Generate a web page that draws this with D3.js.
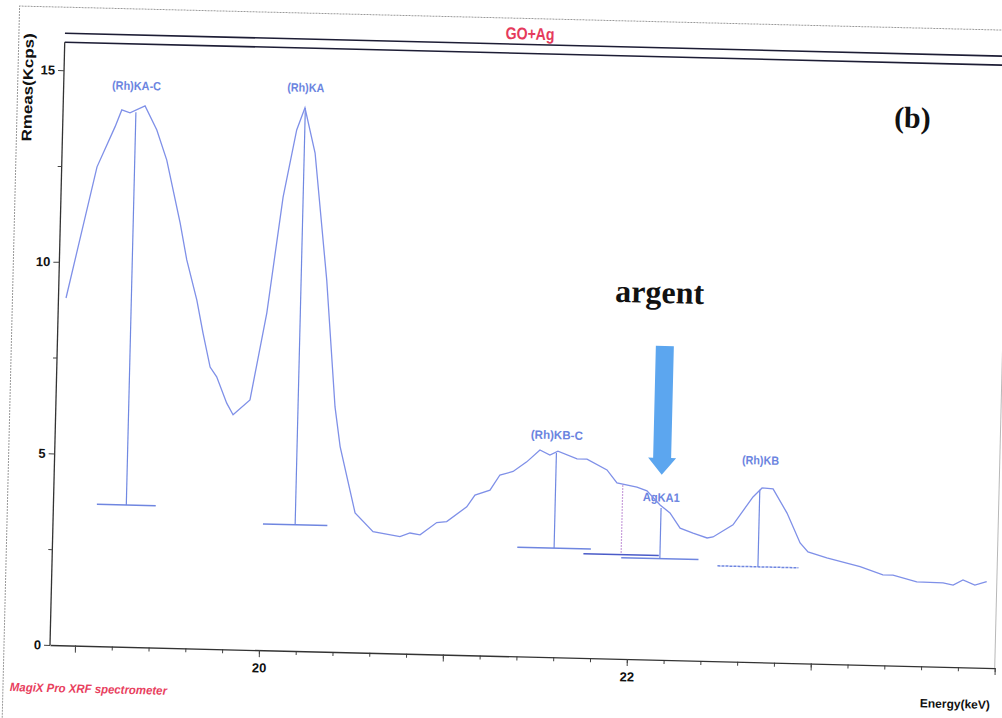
<!DOCTYPE html>
<html>
<head>
<meta charset="utf-8">
<script src="https://cdn.jsdelivr.net/npm/d3@7"></script>
<style>
  body { margin: 0; background: #fff; }
  text { font-family: "Liberation Sans Narrow", "Arial Narrow", "Liberation Sans", sans-serif; }
</style>
</head>
<body>
<div id="chart-container"></div>
<script>
// Spectrum (energy in keV, Rmeas in kcps)
const energy = [18.905, 19.056, 19.149, 19.183, 19.228, 19.309, 19.376, 19.434, 19.515, 19.556,
  19.616, 19.654, 19.697, 19.734, 19.792, 19.828, 19.918, 19.998, 20.071, 20.136,
  20.178, 20.239, 20.319, 20.381, 20.414, 20.504, 20.604, 20.751, 20.805, 20.860,
  20.949, 21.003, 21.110, 21.153, 21.234, 21.286, 21.357, 21.430, 21.500, 21.555,
  21.598, 21.703, 21.757, 21.867, 21.923, 22.032, 22.087, 22.160, 22.215, 22.272,
  22.343, 22.420, 22.452, 22.559, 22.664, 22.712, 22.772, 22.851, 22.926, 22.970,
  23.073, 23.255, 23.380, 23.435, 23.565, 23.708, 23.763, 23.816, 23.881, 23.945];
const rmeas = [9.06, 12.50, 13.56, 14.00, 13.93, 14.12, 13.50, 12.72, 11.09, 10.13,
  9.09, 8.23, 7.35, 7.10, 6.42, 6.12, 6.52, 8.80, 11.83, 13.59,
  14.17, 13.00, 9.70, 6.39, 5.36, 3.64, 3.16, 3.05, 3.15, 3.11,
  3.44, 3.47, 3.87, 4.18, 4.32, 4.72, 4.82, 5.08, 5.40, 5.27,
  5.38, 5.19, 5.19, 4.92, 4.59, 4.49, 4.40, 4.04, 3.84, 3.45,
  3.33, 3.21, 3.24, 3.57, 4.31, 4.55, 4.53, 3.91, 3.14, 2.91,
  2.77, 2.56, 2.36, 2.36, 2.20, 2.19, 2.14, 2.28, 2.15, 2.25];

// Peak markers
const peakNames = ["(Rh)KA-C", "(Rh)KA", "(Rh)KB-C", "", "AgKA1", "(Rh)KB"];
const peakEnergy = [19.26, 20.18, 21.59, 21.955, 22.166, 22.70];
const peakTop = [13.95, 14.17, 5.33, 4.54, 3.96, 4.50];
const peakBase = [3.70, 3.29, 2.85, 2.72, 2.64, 2.49];
const peakHalfWidth = [0.16, 0.175, 0.2, 0.205, 0.21, 0.22];
const peakLabelValue = [14.64, 14.70, 5.80, 4.24, 4.24, 5.27];

const yTicks = [0, 5, 10, 15];
const yMinorTicks = [2.5, 7.5, 12.5];
const xTicks = [20, 22];

const width = 945;
const plotH = 603;

const x = d3.scaleLinear().domain([18.864, 24.0]).range([0, width]);
const y = d3.scaleLinear().domain([0, 15]).range([0, -575]);

const svg = d3.select("#chart-container")
  .append("svg")
  .attr("width", 1002)
  .attr("height", 718);

// the scan is slightly tilted, so the whole sheet is rotated a bit
const g = svg.append("g")
  .attr("transform", "translate(50,645) rotate(1.4)");

// squeeze text to the narrow font of the original
function narrow(sel, len) {
  return sel.attr("textLength", len).attr("lengthAdjust", "spacingAndGlyphs");
}

// outer frame
g.append("path")
  .attr("d", `M-46,80 V-638 H1010`)
  .attr("fill", "none")
  .attr("stroke", "#9a9a9a")
  .attr("stroke-width", 1)
  .attr("stroke-dasharray", "2,1");

// right border
g.append("line")
  .attr("x1", width).attr("x2", width)
  .attr("y1", 0).attr("y2", -plotH)
  .attr("stroke", "#b8b8b8")
  .attr("stroke-width", 1);

// double line on top
[-plotH, -612].forEach(v => {
  g.append("line")
    .attr("x1", 0).attr("x2", 1010)
    .attr("y1", v).attr("y2", v)
    .attr("stroke", "#1d1d35")
    .attr("stroke-width", 1.6);
});

// title
g.append("text")
  .attr("x", 465)
  .attr("y", -617)
  .attr("text-anchor", "middle")
  .attr("fill", "#e53a5c")
  .attr("font-size", 17)
  .attr("font-weight", "bold")
  .text("GO+Ag")
  .call(narrow, 49);

// x axis
const xMinor = d3.range(19, 24.01, 0.2).map(d => +d.toFixed(1));
g.append("g")
  .call(d3.axisBottom(x).tickValues(xMinor).tickSize(4).tickFormat("").tickSizeOuter(0))
  .call(a => a.select(".domain").remove())
  .selectAll("line").attr("stroke", "#444");
g.append("g")
  .call(d3.axisBottom(x).tickValues([19, 20, 21, 22, 23, 24]).tickSize(7).tickFormat(d => xTicks.includes(d) ? d : "").tickSizeOuter(0))
  .call(a => a.select(".domain").attr("stroke", "#333").attr("stroke-width", 1.3))
  .call(a => a.selectAll("line").attr("stroke", "#444"))
  .call(a => a.selectAll("text")
    .attr("y", 13)
    .attr("fill", "#111")
    .attr("font-size", 13)
    .attr("font-weight", "bold")
    .style("font-family", "'Liberation Sans Narrow', 'Liberation Sans', sans-serif"));

// y axis
g.append("line")
  .attr("x1", 0).attr("x2", 0)
  .attr("y1", 0).attr("y2", -plotH)
  .attr("stroke", "#333")
  .attr("stroke-width", 1.3);
g.append("g")
  .call(d3.axisLeft(y).tickValues(yMinorTicks).tickSize(4).tickFormat(""))
  .call(a => a.select(".domain").remove())
  .selectAll("line").attr("stroke", "#444");
g.append("g")
  .call(d3.axisLeft(y).tickValues(yTicks).tickSize(6).tickPadding(3))
  .call(a => a.select(".domain").remove())
  .call(a => a.selectAll("line").attr("stroke", "#444"))
  .call(a => a.selectAll("text")
    .attr("fill", "#111")
    .attr("font-size", 13)
    .attr("font-weight", "bold")
    .style("font-family", "'Liberation Sans Narrow', 'Liberation Sans', sans-serif"));

// axis titles
g.append("text")
  .attr("transform", "translate(-31,-557) rotate(-90)")
  .attr("text-anchor", "middle")
  .attr("fill", "#111")
  .attr("font-size", 14)
  .attr("font-weight", "bold")
  .text("Rmeas(Kcps)")
  .call(narrow, 108);

g.append("text")
  .attr("x", width - 4)
  .attr("y", 41)
  .attr("text-anchor", "end")
  .attr("fill", "#111")
  .attr("font-size", 12)
  .attr("font-weight", "bold")
  .text("Energy(keV)")
  .call(narrow, 70);

g.append("text")
  .attr("x", -39)
  .attr("y", 47)
  .attr("fill", "#e8405e")
  .attr("font-size", 12)
  .attr("font-weight", "bold")
  .attr("font-style", "italic")
  .text("MagiX Pro XRF spectrometer")
  .call(narrow, 157);

// peak markers
const labelLen = [49, 37, 52, 0, 37, 37];
peakEnergy.forEach((e, i) => {
  const pink = peakNames[i] === "";
  g.append("line")
    .attr("x1", x(e)).attr("x2", x(e))
    .attr("y1", y(peakTop[i])).attr("y2", y(peakBase[i]))
    .attr("stroke", pink ? "#c9a0dc" : "#7088e2")
    .attr("stroke-width", 1.2)
    .attr("stroke-dasharray", pink ? "2,1" : null);
  g.append("line")
    .attr("x1", x(e - peakHalfWidth[i])).attr("x2", x(e + peakHalfWidth[i]))
    .attr("y1", y(peakBase[i])).attr("y2", y(peakBase[i]))
    .attr("stroke", pink ? "#4a5bc8" : "#6f86e0")
    .attr("stroke-width", 1.5)
    .attr("stroke-dasharray", i === 5 ? "3,1" : null);
  if (!pink) {
    g.append("text")
      .attr("x", x(e))
      .attr("y", y(peakLabelValue[i]))
      .attr("dy", "0.35em")
      .attr("text-anchor", "middle")
      .attr("fill", "#6b84e0")
      .attr("font-size", 12)
      .attr("font-weight", "bold")
      .text(peakNames[i])
      .call(narrow, labelLen[i]);
  }
});

// spectrum line
const line = d3.line()
  .x((d, i) => x(energy[i]))
  .y(d => y(d));

g.append("path")
  .datum(rmeas)
  .attr("fill", "none")
  .attr("stroke", "#7f90e8")
  .attr("stroke-width", 1.3)
  .attr("d", line);

// annotation arrow for silver
const ax = x(22.165);
const arrow = d3.path();
arrow.moveTo(ax - 9, y(8.19));
arrow.lineTo(ax + 9, y(8.19));
arrow.lineTo(ax + 9, y(5.27));
arrow.lineTo(ax + 14, y(5.27));
arrow.lineTo(ax, y(4.83));
arrow.lineTo(ax - 14, y(5.27));
arrow.lineTo(ax - 9, y(5.27));
arrow.closePath();
g.append("path")
  .attr("d", arrow.toString())
  .attr("fill", "#5ca6ef");

g.append("text")
  .attr("x", x(22.13))
  .attr("y", y(9.31))
  .attr("text-anchor", "middle")
  .attr("fill", "#111")
  .attr("font-size", 32)
  .attr("font-weight", "bold")
  .style("font-family", "'Liberation Serif', 'Times New Roman', serif")
  .text("argent");

g.append("text")
  .attr("x", x(23.48))
  .attr("y", y(14.04))
  .attr("text-anchor", "middle")
  .attr("fill", "#111")
  .attr("font-size", 30)
  .attr("font-weight", "bold")
  .style("font-family", "'Liberation Serif', 'Times New Roman', serif")
  .text("(b)");
</script>
</body>
</html>
